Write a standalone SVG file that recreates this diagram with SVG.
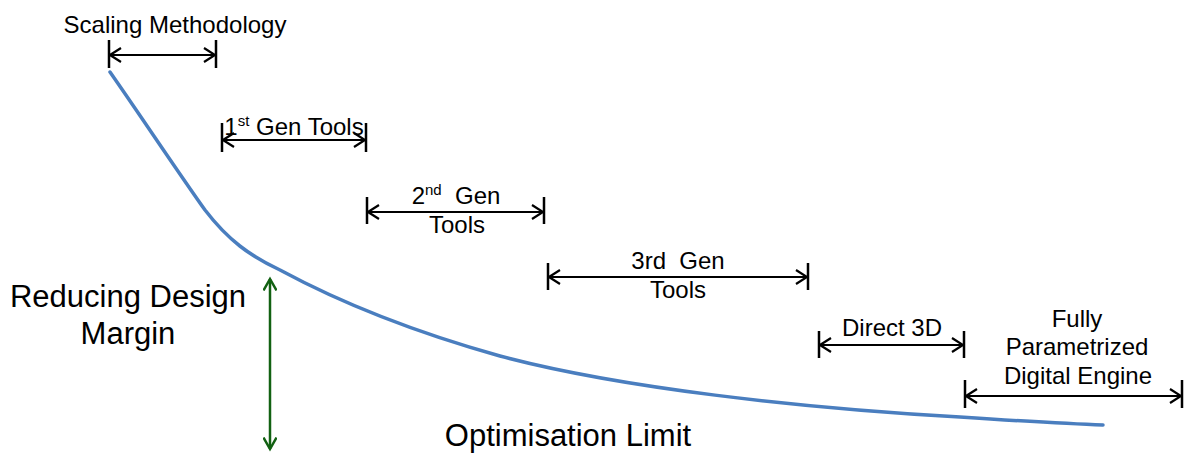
<svg xmlns="http://www.w3.org/2000/svg" width="1188" height="454" viewBox="0 0 1188 454">
<style>
text{font-family:"Liberation Sans",Arial,sans-serif;fill:#000;white-space:pre}
.s{font-size:24px;text-anchor:middle}
.l{font-size:31px;text-anchor:middle}
.dim{stroke:#000;stroke-width:2;fill:none}
.tick{stroke:#000;stroke-width:2.5;fill:none}
.g{stroke:#126112;stroke-width:2.5;fill:none}
.curve{stroke:#4a7ebf;stroke-width:3.5;fill:none;stroke-linecap:round}
</style>
<defs>
<marker id="ah" viewBox="0 0 14 16" refX="12.5" refY="8" markerWidth="14" markerHeight="16" markerUnits="userSpaceOnUse" orient="auto-start-reverse">
<path d="M1.5,1 L12.5,8 L1.5,15" fill="none" stroke="#000" stroke-width="2.2"/>
</marker>
<marker id="ahg" viewBox="0 0 16 14" refX="13" refY="7" markerWidth="16" markerHeight="14" markerUnits="userSpaceOnUse" orient="auto-start-reverse">
<path d="M1.5,0.5 L13,7 L1.5,13.5" fill="none" stroke="#126112" stroke-width="2.5"/>
</marker>
</defs>
<g id="curve">
<path class="curve" d="M110,72 C140,115 180,175 205,210 C228,240 250,256 280,270 C330,297 400,328 500,356 C620,388 800,408 960,417 C1020,421 1070,424 1103,425"/>
</g>
<g id="connectors">
<g id="dim-scaling">
<line class="tick" x1="109" y1="40" x2="109" y2="68"/>
<line class="tick" x1="216" y1="40" x2="216" y2="68"/>
<line class="dim" x1="110" y1="55" x2="215" y2="55" marker-start="url(#ah)" marker-end="url(#ah)"/>
</g>
<g id="dim-1st">
<line class="tick" x1="222" y1="123" x2="222" y2="152"/>
<line class="tick" x1="366" y1="123" x2="366" y2="152"/>
<line class="dim" x1="223" y1="140" x2="365" y2="140" marker-start="url(#ah)" marker-end="url(#ah)"/>
</g>
<g id="dim-2nd">
<line class="tick" x1="367" y1="197" x2="367" y2="224"/>
<line class="tick" x1="544" y1="197" x2="544" y2="224"/>
<line class="dim" x1="368" y1="212" x2="543" y2="212" marker-start="url(#ah)" marker-end="url(#ah)"/>
</g>
<g id="dim-3rd">
<line class="tick" x1="548" y1="263" x2="548" y2="290"/>
<line class="tick" x1="808" y1="263" x2="808" y2="290"/>
<line class="dim" x1="549" y1="277" x2="807" y2="277" marker-start="url(#ah)" marker-end="url(#ah)"/>
</g>
<g id="dim-direct">
<line class="tick" x1="819" y1="331" x2="819" y2="358"/>
<line class="tick" x1="964" y1="331" x2="964" y2="358"/>
<line class="dim" x1="820" y1="345" x2="963" y2="345" marker-start="url(#ah)" marker-end="url(#ah)"/>
</g>
<g id="dim-fully">
<line class="tick" x1="965" y1="380" x2="965" y2="408"/>
<line class="tick" x1="1182" y1="380" x2="1182" y2="408"/>
<line class="dim" x1="966" y1="396" x2="1181" y2="396" marker-start="url(#ah)" marker-end="url(#ah)"/>
</g>
<g id="margin-arrow">
<line class="g" x1="270" y1="279" x2="270" y2="449" marker-start="url(#ahg)" marker-end="url(#ahg)"/>
</g>
</g>
<g id="label-scaling"><text class="s" x="175" y="33">Scaling Methodology</text></g>
<g id="label-1st"><text class="s" x="294" y="135">1<tspan font-size="15" dy="-9">st</tspan><tspan dy="9"> Gen Tools</tspan></text></g>
<g id="label-2nd"><text class="s" x="456" y="204">2<tspan font-size="15" dy="-9">nd</tspan><tspan dy="9">  Gen</tspan></text><text class="s" x="457" y="233">Tools</text></g>
<g id="label-3rd"><text class="s" x="678" y="269">3rd  Gen</text><text class="s" x="678" y="298">Tools</text></g>
<g id="label-direct"><text class="s" x="892" y="336">Direct 3D</text></g>
<g id="label-fully"><text class="s" x="1077" y="327">Fully</text><text class="s" x="1077" y="355">Parametrized</text><text class="s" x="1078" y="384">Digital Engine</text></g>
<g id="label-margin"><text class="l" x="128" y="307">Reducing Design</text><text class="l" x="128" y="344">Margin</text></g>
<g id="label-limit"><text class="l" x="568" y="446">Optimisation Limit</text></g>
</svg>
